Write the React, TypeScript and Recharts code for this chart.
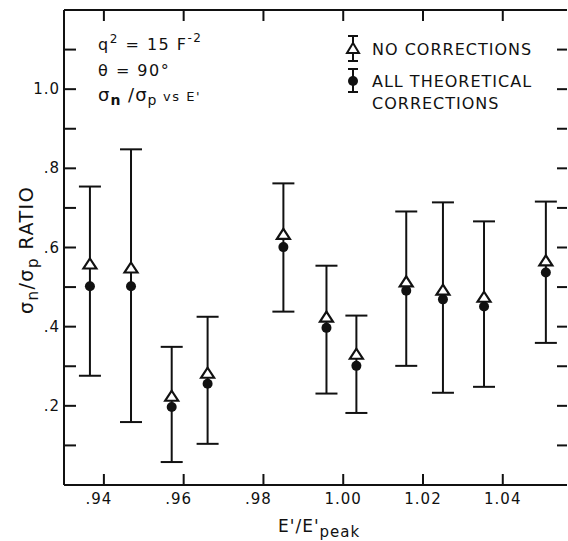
import { ScatterChart, Scatter, XAxis, YAxis, ErrorBar } from 'recharts'

// E'/E'peak for each measurement
const energy = [0.9365, 0.9468, 0.957, 0.966, 0.985, 0.9958, 1.0033, 1.0158, 1.025, 1.0353, 1.0508]
// ratio with no corrections (open triangles)
const noCorr = [0.557, 0.547, 0.223, 0.281, 0.632, 0.423, 0.329, 0.512, 0.491, 0.473, 0.565]
// ratio with all theoretical corrections (filled circles)
const allCorr = [0.502, 0.502, 0.197, 0.256, 0.601, 0.397, 0.301, 0.491, 0.469, 0.451, 0.537]
// error bar ends
const errTop = [0.754, 0.848, 0.349, 0.425, 0.762, 0.554, 0.428, 0.691, 0.714, 0.666, 0.716]
const errBottom = [0.276, 0.159, 0.058, 0.104, 0.438, 0.231, 0.182, 0.301, 0.233, 0.248, 0.359]

const xTicks = [0.94, 0.96, 0.98, 1.0, 1.02, 1.04]
const xTickLabels = ['.94', '.96', '.98', '1.00', '1.02', '1.04']
const yTicks = [0.1, 0.2, 0.3, 0.4, 0.5, 0.6, 0.7, 0.8, 0.9, 1.0, 1.1]
const yTickLabels: { [k: string]: string } = { '0.2': '.2', '0.4': '.4', '0.6': '.6', '0.8': '.8', '1': '1.0' }

const triData = energy.map((e, i) => ({ e, v: noCorr[i] }))
const circData = energy.map((e, i) => ({ e, v: allCorr[i], err: [allCorr[i] - errBottom[i], errTop[i] - allCorr[i]] }))

const FONT = '"DejaVu Sans", sans-serif'
const INK = '#111'
const X_DOMAIN = [0.93, 1.0561]

function Triangle(props: any) {
  const { cx, cy } = props
  return <polygon points={`${cx},${cy - 6} ${cx + 6.5},${cy + 4} ${cx - 6.5},${cy + 4}`} fill="#fff" stroke={INK} strokeWidth={2.2} />
}

function Dot(props: any) {
  const { cx, cy } = props
  return <circle cx={cx} cy={cy} r={5} fill={INK} />
}

function BottomTick(props: any) {
  const { x, y, payload } = props
  const i = xTicks.findIndex((t) => Math.abs(t - payload.value) < 1e-6)
  const label = xTickLabels[i] ?? ''
  const dx = label.startsWith('.') ? -5 : 0
  return (
    <g>
      <line x1={x} x2={x} y1={y} y2={y - 11} stroke={INK} strokeWidth={2} />
      <text x={x + dx} y={y + 19} textAnchor="middle" fontFamily={FONT} fontSize={15} letterSpacing={1} fill={INK}>{label}</text>
    </g>
  )
}

function TopTick(props: any) {
  const { x, y } = props
  return <line x1={x} x2={x} y1={y} y2={y + 11} stroke={INK} strokeWidth={2} />
}

function LeftTick(props: any) {
  const { x, y, payload } = props
  const label = yTickLabels[String(Math.round(payload.value * 10) / 10)] ?? ''
  return (
    <g>
      <line x1={x} x2={x + 12} y1={y} y2={y} stroke={INK} strokeWidth={2} />
      <text x={x - 4} y={y + 5} textAnchor="end" fontFamily={FONT} fontSize={15} letterSpacing={1} fill={INK}>{label}</text>
    </g>
  )
}

function RightTick(props: any) {
  const { x, y } = props
  return <line x1={x} x2={x - 10} y1={y} y2={y} stroke={INK} strokeWidth={2} />
}

function Overlay() {
  return (
    <svg width={568} height={541} style={{ position: 'absolute', left: 0, top: 0, pointerEvents: 'none' }}>
      <g fontFamily={FONT} fill={INK}>
        {/* annotations */}
        <text x={98} y={50} fontSize={16} letterSpacing={1.5}>
          q<tspan dy={-7} fontSize={12}>2</tspan><tspan dy={7}> = 15 F</tspan><tspan dy={-8} fontSize={12}>-2</tspan>
        </text>
        <text x={98} y={76} fontSize={16} letterSpacing={1.5}>θ   = 90°</text>
        <text x={98} y={101} fontSize={18} letterSpacing={1}>
          σ<tspan dy={4} fontSize={14} fontWeight="bold">n</tspan><tspan dy={-4}> /σ</tspan><tspan dy={4} fontSize={14}>p</tspan><tspan dy={-4} fontSize={13} letterSpacing={1.5}> vs  E'</tspan>
        </text>

        {/* legend */}
        <g stroke={INK} strokeWidth={2}>
          <line x1={353} x2={353} y1={36} y2={61} />
          <line x1={348} x2={358} y1={36} y2={36} />
          <line x1={348} x2={358} y1={61} y2={61} />
          <line x1={353} x2={353} y1={69} y2={92} />
          <line x1={348} x2={358} y1={69} y2={69} />
          <line x1={348} x2={358} y1={92} y2={92} />
        </g>
        <polygon points="353,43 359,53 347,53" fill="#fff" stroke={INK} strokeWidth={2} />
        <circle cx={353} cy={81} r={5} fill={INK} />
        <text x={372} y={55} fontSize={16} letterSpacing={1}>NO CORRECTIONS</text>
        <text x={372} y={87} fontSize={16} letterSpacing={1}>ALL THEORETICAL</text>
        <text x={372} y={109} fontSize={16} letterSpacing={1}>CORRECTIONS</text>

        {/* axis titles */}
        <text transform="rotate(-90, 33, 250)" x={33} y={250} textAnchor="middle" fontSize={19} letterSpacing={1.5}>
          σ<tspan dy={5} fontSize={15}>n</tspan><tspan dy={-5}>/σ</tspan><tspan dy={5} fontSize={15}>p</tspan><tspan dy={-5}> RATIO</tspan>
        </text>
        <text x={278} y={532} fontSize={17} letterSpacing={1}>
          E'/E'<tspan dy={5} fontSize={15}>peak</tspan>
        </text>
      </g>
    </svg>
  )
}

export default function App() {
  return (
    <div style={{ position: 'absolute', left: 0, top: 0, width: 568, height: 541, background: '#fff' }}>
      <ScatterChart width={568} height={541} margin={{ top: 9, right: 0, bottom: 55, left: 63 }}>
        <XAxis
          dataKey="e"
          type="number"
          domain={X_DOMAIN}
          ticks={xTicks}
          interval={0}
          height={1}
          tickSize={0}
          tickMargin={0}
          tickLine={false}
          tick={<BottomTick />}
          axisLine={{ stroke: INK, strokeWidth: 2 }}
          allowDataOverflow
        />
        <XAxis
          xAxisId="top"
          orientation="top"
          dataKey="e"
          type="number"
          domain={X_DOMAIN}
          ticks={xTicks}
          interval={0}
          height={1}
          tickSize={0}
          tickMargin={0}
          tickLine={false}
          tick={<TopTick />}
          axisLine={{ stroke: INK, strokeWidth: 2 }}
          allowDataOverflow
        />
        <YAxis
          dataKey="v"
          type="number"
          domain={[0, 1.2]}
          ticks={yTicks}
          interval={0}
          width={1}
          tickSize={0}
          tickMargin={0}
          tickLine={false}
          tick={<LeftTick />}
          axisLine={{ stroke: INK, strokeWidth: 2 }}
          allowDataOverflow
        />
        <YAxis
          yAxisId="right"
          orientation="right"
          dataKey="v"
          type="number"
          domain={[0, 1.2]}
          ticks={yTicks}
          interval={0}
          width={1}
          tickSize={0}
          tickMargin={0}
          tickLine={false}
          tick={<RightTick />}
          axisLine={false}
          allowDataOverflow
        />
        <Scatter data={circData} dataKey="v" shape={<Dot />} isAnimationActive={false}>
          <ErrorBar dataKey="err" direction="y" width={11} stroke={INK} strokeWidth={2} />
        </Scatter>
        <Scatter data={triData} dataKey="v" shape={<Triangle />} isAnimationActive={false} />
      </ScatterChart>
      <Overlay />
    </div>
  )
}
